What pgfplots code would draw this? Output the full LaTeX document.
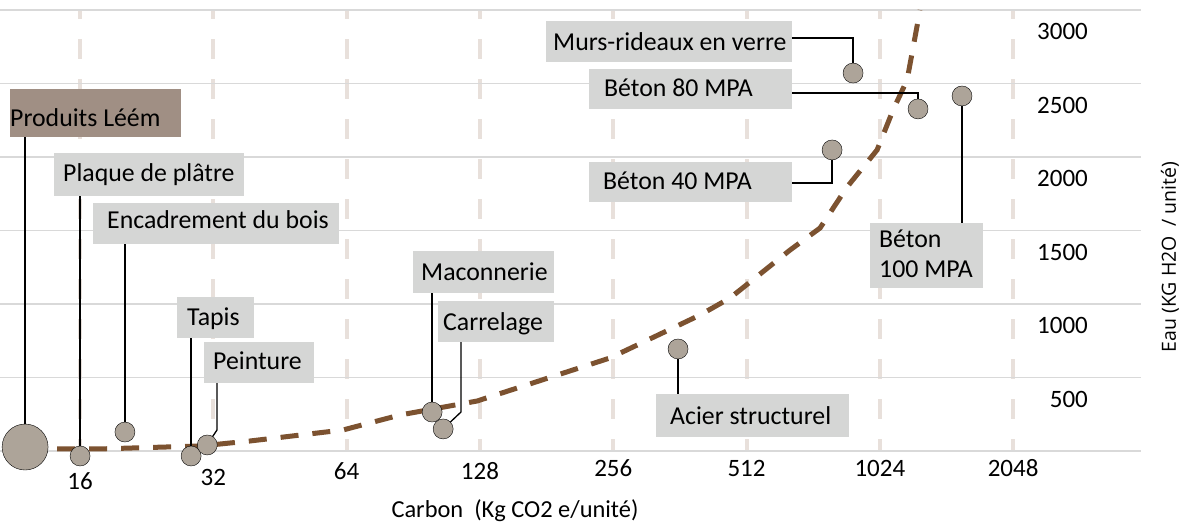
\documentclass[border=0pt]{standalone}
\usepackage{pgfplots}
\pgfplotsset{compat=1.18}
\usepackage{fontspec}
\setmainfont{Carlito}
\newfontfamily\ylabfont{Open Sans}
\definecolor{gridh}{RGB}{217,217,217}
\definecolor{gridv}{RGB}{232,224,219}
\definecolor{curvec}{RGB}{124,82,48}
\definecolor{dotc}{RGB}{173,164,153}
\definecolor{boxg}{RGB}{213,214,213}
\definecolor{boxb}{RGB}{160,143,132}
\newcommand{\A}[2]{([xshift=#1pt,yshift={(451-#2)*1pt}]rel axis cs:0,0)}
\begin{document}
\begin{tikzpicture}[font=\fontsize{25.8}{30}\selectfont]
\path[use as bounding box] (0,0) rectangle (1182pt,524pt);
\begin{axis}[
  at={(0pt,73pt)}, anchor=south west, scale only axis,
  width=1141pt, height=441pt,
  xmode=log, log basis x=2, xmin=10.55, xmax=3984,
  ymin=0, ymax=3000,
  clip=false,
  axis line style={draw=none}, major tick length=0pt,
  xtick={16,32,64,128,256,512,1024,2048},
  xticklabels={\raisebox{-13pt}{16},\raisebox{-9pt}{32},\raisebox{-3pt}{64},\raisebox{-3pt}{128},256,512,1024,2048},
  ytick={0,500,1000,1500,2000,2500,3000},
  yticklabels={,500,1000,1500,2000,2500,3000},
  yticklabel pos=right,
  grid=major,
  x grid style={gridv, line width=4pt, dash pattern=on 20pt off 20pt, dash phase=8pt},
  y grid style={gridh, line width=1.3pt},
  /pgf/number format/assume math mode=true,
  ticklabel style={font=\fontsize{25}{30}\selectfont},
  xticklabel style={anchor=base, inner sep=0pt, yshift=-26pt},
  yticklabel style={anchor=base east, inner sep=0pt, xshift=-53pt, yshift=-30pt},
]
% trend curve
\addplot[curvec, line width=5pt, dash pattern=on 18pt off 14pt] coordinates {
(12.02,14) (17.75,14) (29.9,34) (38.7,68) (62.8,143) (84.5,245) (126.1,340)
(251.8,633) (402,925) (470,1041) (642,1367) (750.5,1517) (863.6,1796)
(1009.5,2048) (1097,2320) (1180,2524) (1262,3000)};
% leader lines
\draw[black, line width=1.3pt] \A{25}{137} -- \A{25}{447};
\draw[black, line width=1.3pt] \A{80}{196} -- \A{80}{456};
\draw[black, line width=1.3pt] \A{125}{244} -- \A{125}{432};
\draw[black, line width=1.3pt] \A{191}{338} -- \A{191}{456};
\draw[black, line width=1.3pt] \A{217}{383} -- \A{217}{430} -- \A{207}{445};
\draw[black, line width=1.3pt] \A{432}{293} -- \A{432}{412};
\draw[black, line width=1.3pt] \A{461}{342} -- \A{461}{412} -- \A{443}{429};
\draw[black, line width=1.3pt] \A{678}{349} -- \A{678}{394};
\draw[black, line width=1.3pt] \A{792}{38} -- \A{853}{38} -- \A{853}{73};
\draw[black, line width=1.3pt] \A{792}{93} -- \A{918}{93} -- \A{918}{109};
\draw[black, line width=1.3pt] \A{792}{183} -- \A{832}{183} -- \A{832}{150};
\draw[black, line width=1.3pt] \A{962}{96} -- \A{962}{223};
% products
\addplot[only marks, mark=*, mark size=23pt, mark options={draw=none, fill=dotc}] coordinates {(12.02,27)};
\addplot[only marks, mark=*, mark size=10pt, mark options={draw=none, fill=dotc}] coordinates {
(16,-34) (20.2,129) (28.5,-34) (31.0,41) (99.8,265) (105.7,150) (358.6,694)
(798.9,2048) (891,2571) (1249,2327) (1570,2415)};
\end{axis}
\begin{scope}[x=1pt,y=-1pt,yshift=524pt]
\fill[boxb] (10,89) rectangle (181,137);
\node[anchor=base west, inner sep=0pt] at (10,127) {Produits Léém};
\fill[boxg] (54,153) rectangle (244,196);
\node[anchor=base west, inner sep=0pt] at (63,182) {Plaque de plâtre};
\fill[boxg] (93,203) rectangle (339,244);
\node[anchor=base west, inner sep=0pt] at (107,229) {Encadrement du bois};
\fill[boxg] (177,297) rectangle (254,338);
\node[anchor=base west, inner sep=0pt] at (187,326) {Tapis};
\fill[boxg] (204,342) rectangle (314,383);
\node[anchor=base west, inner sep=0pt] at (213,370) {Peinture};
\fill[boxg] (413,251) rectangle (554,293);
\node[anchor=base west, inner sep=0pt] at (421,281) {Maconnerie};
\fill[boxg] (438,301) rectangle (554,342);
\node[anchor=base west, inner sep=0pt] at (443,331) {Carrelage};
\fill[boxg] (656,394) rectangle (849,437);
\node[anchor=base west, inner sep=0pt] at (670,425) {Acier structurel};
\fill[boxg] (546,21) rectangle (792,62);
\node[anchor=base west, inner sep=0pt] at (553,51) {Murs-rideaux en verre};
\fill[boxg] (589,69) rectangle (792,109);
\node[anchor=base west, inner sep=0pt] at (604,97) {Béton 80 MPA};
\fill[boxg] (589,162) rectangle (792,202);
\node[anchor=base west, inner sep=0pt] at (603,190) {Béton 40 MPA};
\fill[boxg] (870,223) rectangle (983,288);
\node[anchor=base west, inner sep=0pt] at (879,248) {Béton};
\node[anchor=base west, inner sep=0pt] at (879,278) {100 MPA};
\node[anchor=base, font=\fontsize{24.4}{29}\selectfont] at (515,518) {Carbon\ \ (Kg CO2 e/unité)};
\node[rotate=90, font=\ylabfont\fontsize{19.5}{23}\selectfont] at (1170,257) {Eau (KG H2O\hspace{0.5em}/ unité)};
\end{scope}
\end{tikzpicture}
\end{document}
